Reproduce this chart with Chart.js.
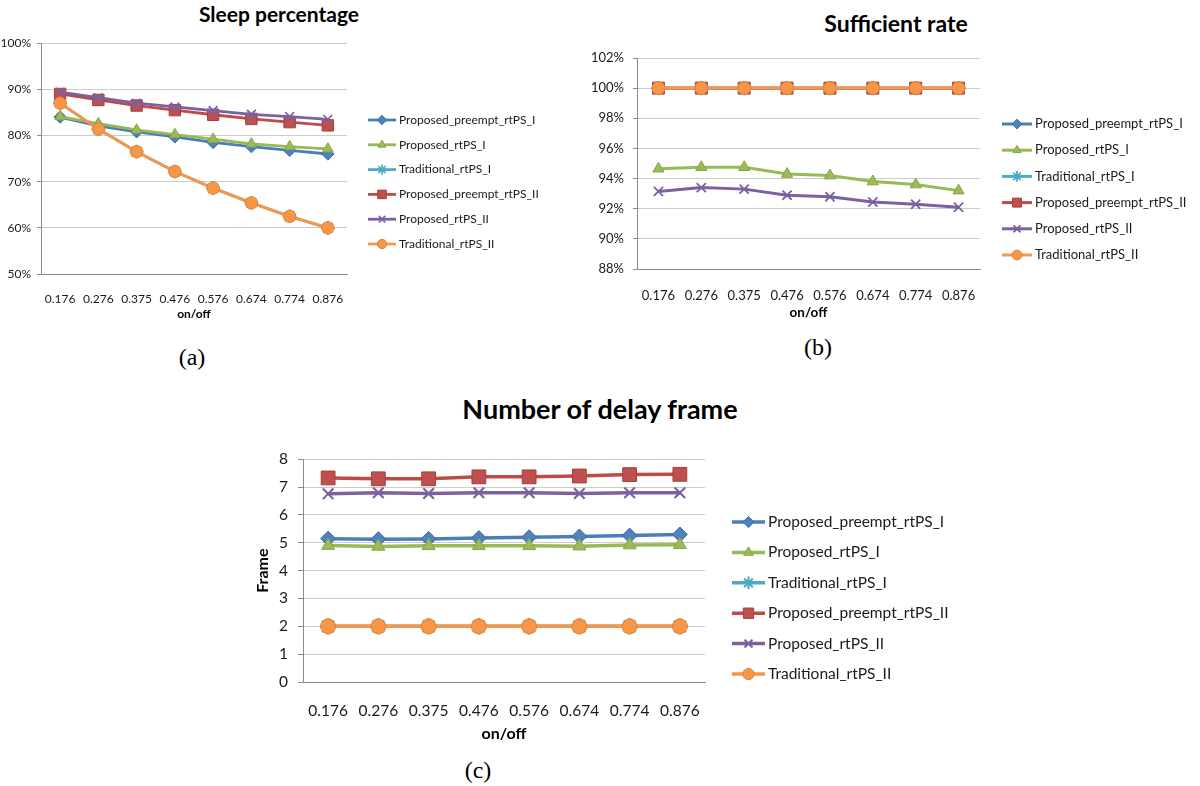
<!DOCTYPE html>
<html>
<head>
<meta charset="utf-8">
<script src="https://cdn.jsdelivr.net/npm/chart.js@4.4.0/dist/chart.umd.min.js"></script>
<style>
  body { margin: 0; background: #fff; }
  #page { position: relative; width: 1200px; height: 786px; overflow: hidden; font-family: Lato, sans-serif; }
  canvas { position: absolute; }
  .title { position: absolute; font-weight: bold; color: #000; white-space: nowrap; line-height: 1; transform: translate(-50%, -50%); }
  .cap { position: absolute; font-family: "Liberation Serif", serif; font-size: 24px; line-height: 1; color: #000; transform: translate(-50%, -50%); }
</style>
</head>
<body>
<div id="page">
  <div class="title" style="left:279px; top:13px; font-size:21px;">Sleep percentage</div>
  <div class="title" style="left:896px; top:23px; font-size:23px;">Sufficient rate</div>
  <div class="title" style="left:600px; top:408px; font-size:27px;">Number of delay frame</div>

  <canvas id="chartA" width="570" height="300" style="left:0px; top:30px;"></canvas>
  <canvas id="chartB" width="630" height="290" style="left:570px; top:40px;"></canvas>
  <canvas id="chartC" width="730" height="310" style="left:240px; top:440px;"></canvas>

  <div class="cap" style="left:192px; top:357px;">(a)</div>
  <div class="cap" style="left:818px; top:347px;">(b)</div>
  <div class="cap" style="left:478px; top:770px;">(c)</div>
</div>

<script>
// x categories (on/off ratio)
var onOff = ['0.176', '0.276', '0.375', '0.476', '0.576', '0.674', '0.774', '0.876'];

var seriesNames = ['Proposed_preempt_rtPS_I', 'Proposed_rtPS_I', 'Traditional_rtPS_I',
                   'Proposed_preempt_rtPS_II', 'Proposed_rtPS_II', 'Traditional_rtPS_II'];

// (a) sleep percentage (%)
var sleepPreemptI   = [84.0, 82.1, 80.8, 79.7, 78.5, 77.6, 76.8, 76.0];
var sleepPropI      = [84.1, 82.6, 81.2, 80.2, 79.2, 78.2, 77.6, 77.1];
var sleepTradI      = [87.0, 81.4, 76.5, 72.2, 68.6, 65.4, 62.5, 60.0];
var sleepPreemptII  = [89.0, 87.7, 86.5, 85.5, 84.5, 83.6, 82.9, 82.2];
var sleepPropII     = [89.4, 88.2, 87.0, 86.2, 85.4, 84.6, 84.1, 83.5];
var sleepTradII     = [87.0, 81.4, 76.5, 72.2, 68.6, 65.4, 62.5, 60.0];

// (b) sufficient rate (%)
var suffPreemptI    = [100, 100, 100, 100, 100, 100, 100, 100];
var suffPropI       = [94.65, 94.75, 94.75, 94.3, 94.2, 93.8, 93.6, 93.2];
var suffTradI       = [100, 100, 100, 100, 100, 100, 100, 100];
var suffPreemptII   = [100, 100, 100, 100, 100, 100, 100, 100];
var suffPropII      = [93.15, 93.4, 93.3, 92.9, 92.8, 92.45, 92.3, 92.1];
var suffTradII      = [100, 100, 100, 100, 100, 100, 100, 100];

// (c) number of delay frame
var delayPreemptI   = [5.15, 5.13, 5.14, 5.17, 5.2, 5.23, 5.26, 5.3];
var delayPropI      = [4.9, 4.87, 4.89, 4.89, 4.89, 4.88, 4.92, 4.93];
var delayTradI      = [2, 2, 2, 2, 2, 2, 2, 2];
var delayPreemptII  = [7.33, 7.3, 7.3, 7.37, 7.37, 7.4, 7.45, 7.46];
var delayPropII     = [6.76, 6.8, 6.77, 6.8, 6.8, 6.77, 6.8, 6.8];
var delayTradII     = [2, 2, 2, 2, 2, 2, 2, 2];

// excel 2007 style colours / markers
var lineColors   = ['#4a7ebb', '#98b954', '#4bacc6', '#be4b48', '#7d60a0', '#f79646'];
var markerFill   = ['#4f81bd', '#9bbb59', '#4bacc6', '#c0504d', '#8064a2', '#f79646'];
var markerEdge   = ['#3d6da6', '#86a64a', '#4bacc6', '#a43f3c', '#7d60a0', '#e2822f'];
var markerStyles = ['rectRot', 'triangle', 'star', 'rect', 'crossRot', 'circle'];
var sizeFactor   = [1, 1, 1.1, 1.3, 1, 1];

var axisColor = '#8c8c8c';
var gridColor = '#cccccc';
var textColor = '#1a1a1a';

// legend with a short line and the marker, like excel
var lineLegend = {
  id: 'lineLegend',
  afterDraw: function (chart, args, opts) {
    var ctx = chart.ctx;
    ctx.save();
    chart.data.datasets.forEach(function (ds, i) {
      var y = opts.y + i * opts.gap;
      ctx.strokeStyle = ds.borderColor;
      ctx.lineWidth = ds.borderWidth;
      ctx.beginPath();
      ctx.moveTo(opts.x, y);
      ctx.lineTo(opts.x + opts.len, y);
      ctx.stroke();
      ctx.fillStyle = ds.pointBackgroundColor;
      ctx.strokeStyle = ds.pointBorderColor;
      ctx.lineWidth = ds.pointBorderWidth;
      Chart.helpers.drawPoint(ctx, {
        pointStyle: ds.pointStyle,
        radius: ds.pointRadius * 0.75,
        borderWidth: ds.pointBorderWidth,
        rotation: 0
      }, opts.x + opts.len / 2, y);
      ctx.fillStyle = textColor;
      ctx.font = opts.fontSize + 'px Lato';
      ctx.textBaseline = 'middle';
      ctx.textAlign = 'left';
      ctx.fillText(seriesNames[i], opts.textX, y);
    });
    ctx.restore();
  }
};

function makeChart(id, cfg) {
  var el = document.getElementById(id);
  var W = el.width, H = el.height;
  var datasets = cfg.series.map(function (vals, i) {
    var thin = markerStyles[i] === 'star' || markerStyles[i] === 'crossRot';
    return {
      label: seriesNames[i],
      data: vals,
      borderColor: lineColors[i],
      borderWidth: cfg.lineWidth,
      pointStyle: markerStyles[i],
      pointRadius: cfg.marker * sizeFactor[i],
      pointBackgroundColor: markerFill[i],
      pointBorderColor: markerEdge[i],
      pointBorderWidth: thin ? cfg.lineWidth * 0.6 : 1,
      tension: 0,
      fill: false,
      order: seriesNames.length - i
    };
  });

  var chart = new Chart(el, {
    type: 'line',
    data: { labels: onOff, datasets: datasets },
    options: {
      responsive: false,
      animation: false,
      layout: { padding: { left: 0, top: cfg.area.top, right: W - cfg.area.right, bottom: 0 } },
      plugins: {
        legend: { display: false },
        title: { display: false },
        tooltip: { enabled: false },
        lineLegend: cfg.legend
      },
      scales: {
        x: {
          offset: true,
          grid: { display: false },
          border: { color: axisColor, width: 1 },
          ticks: { color: textColor, font: { family: 'Lato', size: cfg.tickFont }, padding: cfg.xPad, maxRotation: 0, autoSkip: false },
          title: { display: true, text: 'on/off', color: '#000', font: { family: 'Lato', size: cfg.titleFont, weight: 'bold' }, padding: { top: 0, bottom: cfg.xTitlePad } },
          afterFit: function (s) { s.height = H - cfg.area.bottom; }
        },
        y: {
          min: cfg.yMin,
          max: cfg.yMax,
          ticks: { stepSize: cfg.yStep, color: textColor, font: { family: 'Lato', size: cfg.tickFont }, padding: cfg.yPad,
                   callback: function (v) { return v + cfg.unit; } },
          grid: { color: gridColor, tickColor: axisColor, tickLength: cfg.tickLen },
          border: { color: axisColor, width: 1 },
          title: cfg.yTitle ? { display: true, text: cfg.yTitle, color: '#000', font: { family: 'Lato', size: cfg.titleFont, weight: 'bold' }, padding: { top: cfg.yTitlePad, bottom: 0 } } : { display: false },
          afterFit: function (s) { s.width = cfg.area.left; }
        }
      }
    },
    plugins: [lineLegend]
  });

  // pull the plot area back where it belongs (y labels overflow the top)
  var dt = chart.chartArea.top - cfg.area.top;
  if (dt !== 0) {
    chart.config.options.layout.padding.top -= dt;
    chart.update('none');
  }
  return chart;
}

makeChart('chartA', {
  series: [sleepPreemptI, sleepPropI, sleepTradI, sleepPreemptII, sleepPropII, sleepTradII],
  area: { left: 41, top: 12, right: 347, bottom: 244 },
  yMin: 50, yMax: 100, yStep: 10, unit: '%',
  lineWidth: 2.8, marker: 6.2,
  tickFont: 12, titleFont: 12, tickLen: 4, xPad: 10, yPad: 6, xTitlePad: 9,
  legend: { x: 368, len: 28, textX: 399, y: 90, gap: 24.8, fontSize: 12 }
});

makeChart('chartB', {
  series: [suffPreemptI, suffPropI, suffTradI, suffPreemptII, suffPropII, suffTradII],
  area: { left: 67, top: 18, right: 410, bottom: 229 },
  yMin: 88, yMax: 102, yStep: 2, unit: '%',
  lineWidth: 3, marker: 6.5,
  tickFont: 13, titleFont: 13.5, tickLen: 4, xPad: 11, yPad: 9, xTitlePad: 9,
  legend: { x: 432, len: 30, textX: 465, y: 84, gap: 26.2, fontSize: 13 }
});

makeChart('chartC', {
  series: [delayPreemptI, delayPropI, delayTradI, delayPreemptII, delayPropII, delayTradII],
  area: { left: 63, top: 12, right: 465, bottom: 242 },
  yMin: 0, yMax: 8, yStep: 1, unit: '',
  lineWidth: 3.5, marker: 7.5,
  tickFont: 15.5, titleFont: 16, tickLen: 5, xPad: 12, yPad: 10, xTitlePad: 7,
  yTitle: 'Frame', yTitlePad: 13,
  legend: { x: 492, len: 33, textX: 528, y: 82, gap: 30.4, fontSize: 15.5 }
});
</script>
</body>
</html>
